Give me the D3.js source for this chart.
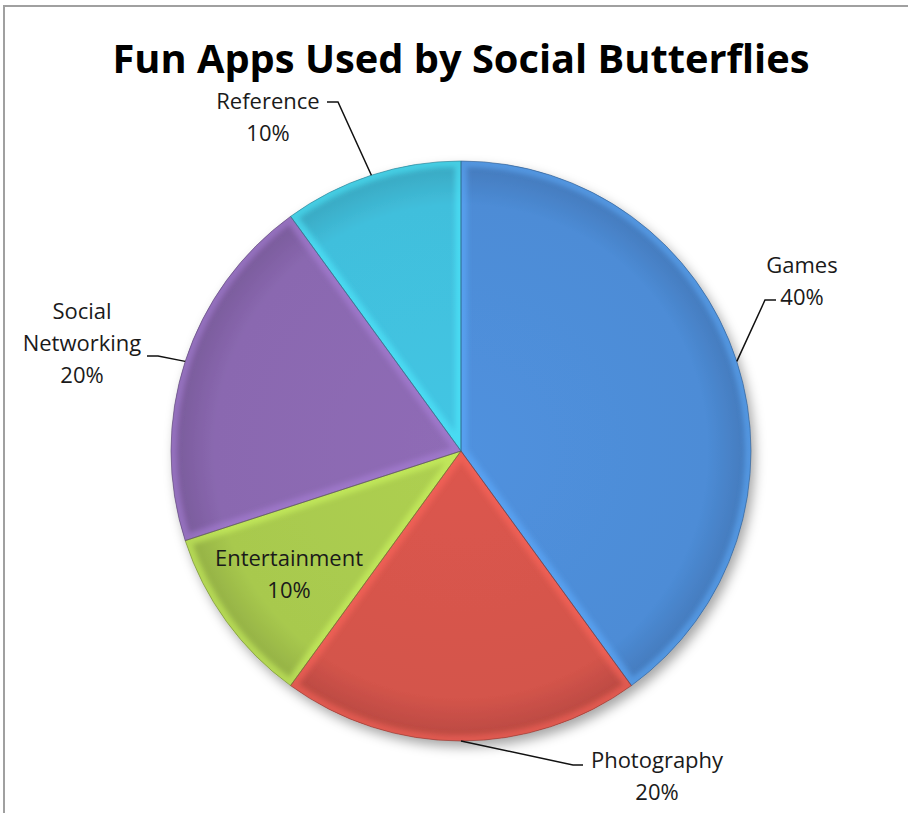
<!DOCTYPE html>
<html>
<head>
<meta charset="utf-8">
<script src="https://cdn.jsdelivr.net/npm/d3@7"></script>
<style>
  body { margin: 0; background: #fff; }
  text { font-family: "Open Sans", "Noto Sans", sans-serif; fill: #1a1a1a; }
</style>
</head>
<body>
<div id="chart"></div>
<script>
var categories = ["Games", "Photography", "Entertainment", "Social Networking", "Reference"];
var values = [40, 20, 10, 20, 10];
var colors = ["#4d8cd6", "#d4544b", "#a8c94e", "#8a68b0", "#41bfdc"];
var labelLines = [["Games", "40%"], ["Photography", "20%"], ["Entertainment", "10%"], ["Social", "Networking", "20%"], ["Reference", "10%"]];

var width = 908, height = 813;
var cx = 461, cy = 451, radius = 290;

var svg = d3.select("#chart").append("svg")
    .attr("width", width)
    .attr("height", height);

// page frame
svg.append("path")
    .attr("d", "M4,813 V6 H908")
    .attr("fill", "none")
    .attr("stroke", "#a0a0a0")
    .attr("stroke-width", 2);

svg.append("text")
    .attr("x", cx)
    .attr("y", 73)
    .attr("text-anchor", "middle")
    .attr("font-size", 39)
    .attr("font-weight", "bold")
    .attr("textLength", 697)
    .attr("lengthAdjust", "spacingAndGlyphs")
    .style("fill", "#000")
    .text("Fun Apps Used by Social Butterflies");

var defs = svg.append("defs");

var shadow = defs.append("filter").attr("id", "shadow")
    .attr("x", "-20%").attr("y", "-20%").attr("width", "140%").attr("height", "140%");
shadow.append("feDropShadow")
    .attr("dx", 4).attr("dy", 6).attr("stdDeviation", 6)
    .attr("flood-color", "#000").attr("flood-opacity", 0.35);

var soft = defs.append("filter").attr("id", "soft");
soft.append("feGaussianBlur").attr("stdDeviation", 2.5);

var pie = d3.pie().sort(null).value(function(d) { return d; });
var arcs = pie(values);

var arc = d3.arc().innerRadius(0).outerRadius(radius);

arcs.forEach(function(d, i) {
    var base = d3.color(colors[i]);
    var g = defs.append("radialGradient")
        .attr("id", "grad" + i)
        .attr("gradientUnits", "userSpaceOnUse")
        .attr("cx", 0).attr("cy", 0).attr("r", radius);
    g.append("stop").attr("offset", "0%").attr("stop-color", base.brighter(0.1));
    g.append("stop").attr("offset", "85%").attr("stop-color", base);
    g.append("stop").attr("offset", "100%").attr("stop-color", base.darker(0.4));
    defs.append("clipPath").attr("id", "clip" + i)
        .append("path").attr("d", arc(d));
});

var pieG = svg.append("g")
    .attr("transform", "translate(" + cx + "," + cy + ")");

pieG.append("g")
    .attr("filter", "url(#shadow)")
    .selectAll("path")
    .data(arcs)
    .enter().append("path")
    .attr("d", arc)
    .attr("fill", function(d, i) { return "url(#grad" + i + ")"; });

// bevel highlight along each slice edge
pieG.selectAll("g.bevel")
    .data(arcs)
    .enter().append("g")
    .attr("class", "bevel")
    .attr("clip-path", function(d, i) { return "url(#clip" + i + ")"; })
    .append("path")
    .attr("d", arc)
    .attr("fill", "none")
    .attr("stroke", function(d, i) { return d3.color(colors[i]).brighter(0.6); })
    .attr("stroke-opacity", 0.55)
    .attr("stroke-width", 12)
    .attr("filter", "url(#soft)");

pieG.selectAll("path.edge")
    .data(arcs)
    .enter().append("path")
    .attr("class", "edge")
    .attr("d", arc)
    .attr("fill", "none")
    .attr("stroke", function(d, i) { return d3.color(colors[i]).darker(1.2); })
    .attr("stroke-opacity", 0.6)
    .attr("stroke-width", 1);

// label layout: first baseline relative to pie centre, plus leader elbow
var labelAt = [
    { x: 341, y: -178, elbow: [304, -151], end: [315, -151] },
    { x: 196, y: 317, elbow: [112, 314], end: [122, 314] },
    { x: -172, y: 115, inside: true },
    { x: -379, y: -132, elbow: [-303, -95], end: [-314, -95] },
    { x: -193, y: -342, elbow: [-123, -349], end: [-134, -349] }
];

var lineH = 32;
arcs.forEach(function(d, i) {
    var L = labelAt[i];
    var lines = labelLines[i];
    var t = svg.append("text")
        .attr("text-anchor", "middle")
        .attr("font-size", 22);
    lines.forEach(function(s, k) {
        t.append("tspan")
            .attr("x", cx + L.x)
            .attr("y", cy + L.y + k * lineH)
            .text(s);
    });
    if (!L.inside) {
        var mid = (d.startAngle + d.endAngle) / 2;
        var p = [Math.sin(mid) * radius, -Math.cos(mid) * radius];
        pieG.append("polyline")
            .attr("points", [p, L.elbow, L.end].map(function(q) { return q.join(","); }).join(" "))
            .attr("fill", "none")
            .attr("stroke", "#111")
            .attr("stroke-width", 1.5);
    }
});
</script>
</body>
</html>
